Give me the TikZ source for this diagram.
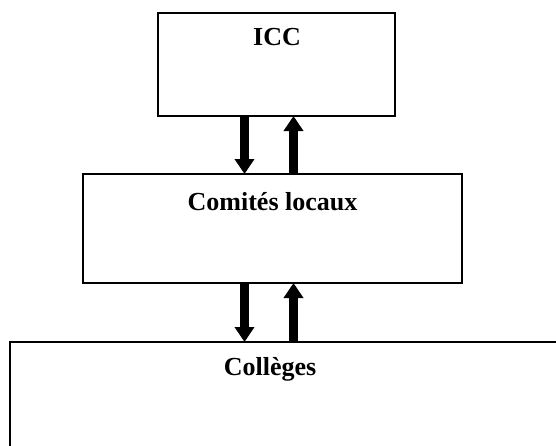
\documentclass[tikz,border=0pt]{standalone}
\usepackage{fontspec}
\setmainfont{Liberation Serif}
\usetikzlibrary{arrows.meta,calc}
\begin{document}
\begin{tikzpicture}[x=1pt,y=-1pt,
  box/.style={draw=black,line width=1.6pt,inner sep=0pt,outer sep=0pt,fill=white},
  lbl/.style={font=\fontsize{26}{30}\selectfont\bfseries,inner sep=0pt,anchor=base},
  bigarrow/.style={line width=9pt,-{Triangle[width=19pt,length=15pt]}}]
\clip (0,0) rectangle (556,445);
\fill[white] (0,0) rectangle (556,445);
\node[box,minimum width=237pt,minimum height=103pt] (icc) at (276.5,64.5) {};
\node[box,minimum width=379pt,minimum height=109pt] (com) at (272.5,228.5) {};
\node[box,minimum width=700pt,minimum height=200pt,anchor=north west] (col) at (10,342) {};
\node[lbl] (ticc) at ($(icc.north)+(0.5,32)$) {ICC};
\node[lbl] (tcom) at ($(com.north)+(0,36)$) {Comités locaux};
\node[lbl] (tcol) at ($(col.north west)+(260,33)$) {Collèges};
\coordinate (xa) at (244.5,0);
\coordinate (xb) at (293.5,0);
\draw[bigarrow] (icc.south -| xa) -- (com.north -| xa);
\draw[bigarrow] (com.north -| xb) -- (icc.south -| xb);
\draw[bigarrow] (com.south -| xa) -- (col.north -| xa);
\draw[bigarrow] (col.north -| xb) -- (com.south -| xb);
\end{tikzpicture}
\end{document}
